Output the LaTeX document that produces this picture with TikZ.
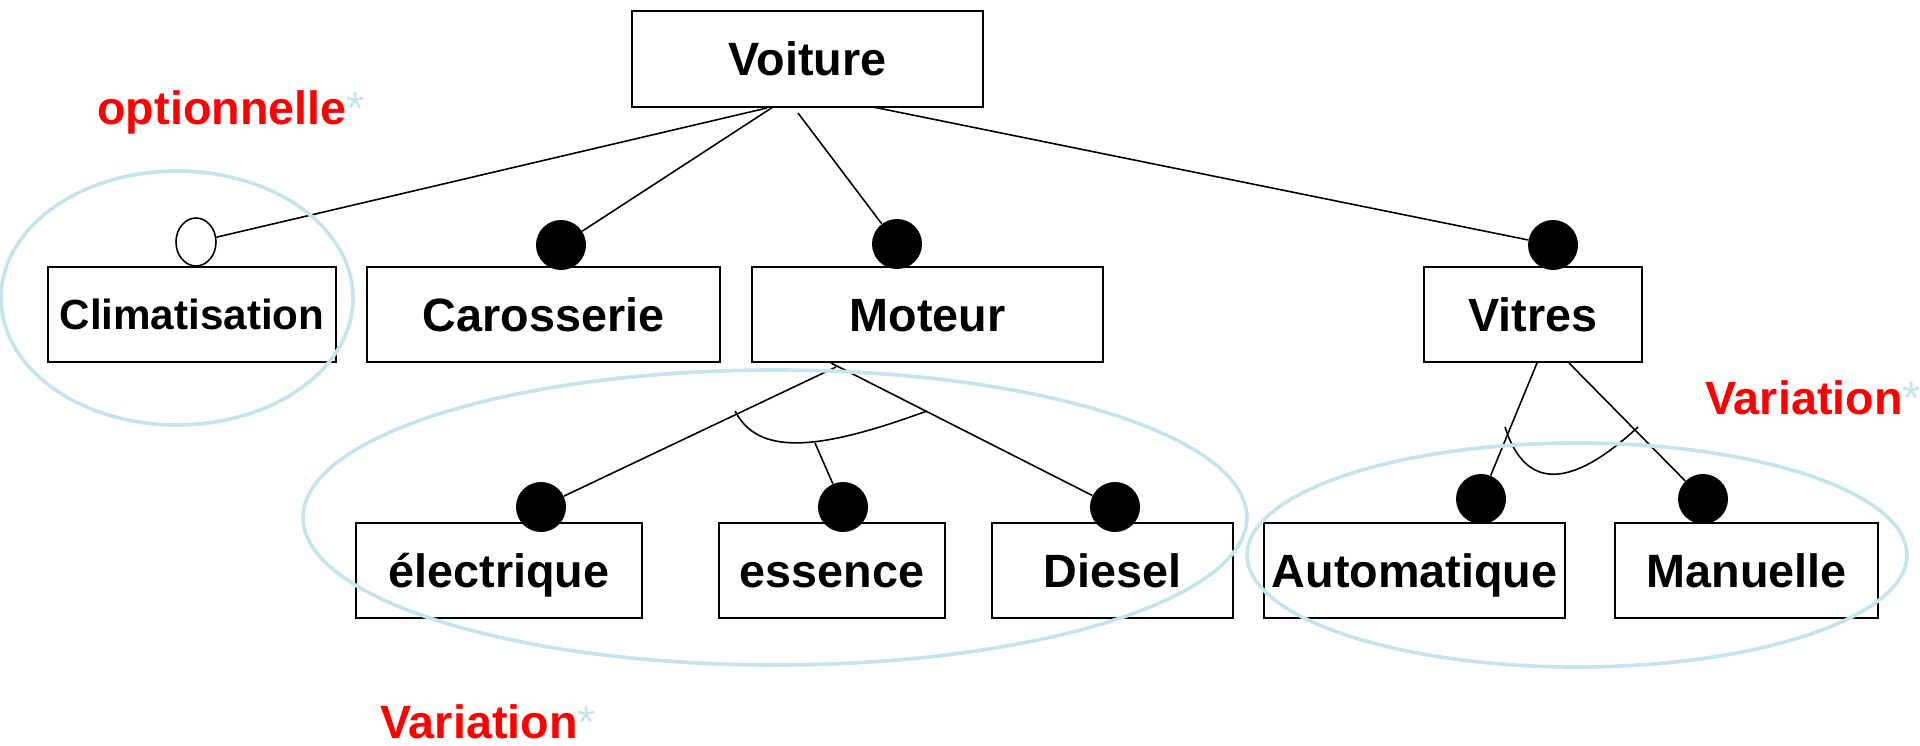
\documentclass[tikz,border=0pt]{standalone}
\usepackage{fontspec}
\setmainfont{Liberation Sans}
\usepackage{tikz}
\usetikzlibrary{shapes.geometric}
\definecolor{halo}{rgb}{0.77,0.9,0.92}
\definecolor{scheme}{rgb}{1,0,0}

\tikzset{
	feature/.style={draw=black,line width=1.1pt,rectangle,inner sep=0pt,minimum height=19mm,text height=19pt,text depth=0pt,font=\fontsize{26.6}{30}\selectfont\bfseries},
	mandatory/.style={circle,fill=black,draw=none,minimum size=10mm,inner sep=0pt},
	optional/.style={ellipse,draw=black,line width=0.9pt,fill=white,minimum width=8mm,minimum height=9.6mm,inner sep=0pt},
	link/.style={draw=black,line width=0.9pt},
	group/.style={draw=halo,line width=2.1pt},
	tag/.style={anchor=base west,inner sep=0pt,text=scheme,font=\fontsize{26.6}{30}\selectfont\bfseries}
}

\begin{document}
\begin{tikzpicture}[x=0.02cm,y=-0.02cm]
	\useasboundingbox (0,0) rectangle (1920,746);

	% features
	\node (voiture) at (807.5,59) [feature,minimum width=70.2mm,minimum height=19.2mm] {Voiture};
	\node (clim) at (192,314.5) [feature,minimum width=57.6mm,text height=17pt,font=\fontsize{24}{28}\selectfont\bfseries] {Climatisation};
	\node (caross) at (543.5,314.5) [feature,minimum width=70.6mm] {Carosserie};
	\node (moteur) at (927.5,314.5) [feature,minimum width=70.2mm] {Moteur};
	\node (vitres) at (1533,314.5) [feature,minimum width=43.6mm] {Vitres};
	\node (elec) at (499,570.5) [feature,minimum width=57.2mm] {électrique};
	\node (essence) at (832,570.5) [feature,minimum width=45.2mm] {essence};
	\node (diesel) at (1112.5,570.5) [feature,minimum width=48.2mm] {Diesel};
	\node (auto) at (1414.5,570.5) [feature,minimum width=60.2mm] {Automatique};
	\node (manuelle) at (1746.5,570.5) [feature,minimum width=52.6mm] {Manuelle};

	% connector ends
	\coordinate (v1) at (767,108);
	\coordinate (v2) at (773,107);
	\coordinate (v3) at (798,113);
	\coordinate (v4) at (873,107);
	\coordinate (m1) at (836,367);
	\coordinate (m2) at (831,363);
	\coordinate (a1) at (735,411);
	\coordinate (a2) at (927,411);
	\coordinate (s1) at (815,443);
	\coordinate (w1) at (1537,363);
	\coordinate (w2) at (1569,363);
	\coordinate (b1) at (1505,427);
	\coordinate (b2) at (1638,427);

	% markers
	\node (copt) at (196,242) [optional] {};
	\node (ccar) at (561,245) [mandatory] {};
	\node (cmot) at (897,244) [mandatory] {};
	\node (cvit) at (1553,245) [mandatory] {};
	\node (celec) at (541,507) [mandatory] {};
	\node (cess) at (843,507) [mandatory] {};
	\node (cdie) at (1115,507) [mandatory] {};
	\node (cauto) at (1481,499) [mandatory] {};
	\node (cman) at (1703,499) [mandatory] {};

	\draw[link] (v1) -- (copt);
	\draw[link] (v2) -- (ccar);
	\draw[link] (v3) -- (cmot);
	\draw[link] (v4) -- (cvit);
	\draw[link] (m1) -- (celec);
	\draw[link] (m2) -- (cdie);
	\draw[link] (a1) .. controls (758,455) and (815,452) .. (a2);
	\draw[link] (s1) -- (cess);
	\draw[link] (w1) -- (cauto);
	\draw[link] (w2) -- (cman);
	\draw[link] (b1) .. controls (1525,490) and (1570,490) .. (b2);

	% groups
	\draw[group] (177,298) ellipse [x radius=35.2mm,y radius=25.4mm];
	\draw[group] (775,517.5) ellipse [x radius=94.4mm,y radius=29.5mm];
	\draw[group] (1577,555) ellipse [x radius=66mm,y radius=22.4mm];

	\node (optlabel) at (97,125) [tag] {optionnelle{\color{halo}\mdseries*}};
	\node (varvit) at (1705,415) [tag] {Variation{\color{halo}\mdseries*}};
	\node (varmot) at (380,738) [tag] {Variation{\color{halo}\mdseries*}};
\end{tikzpicture}
\end{document}
